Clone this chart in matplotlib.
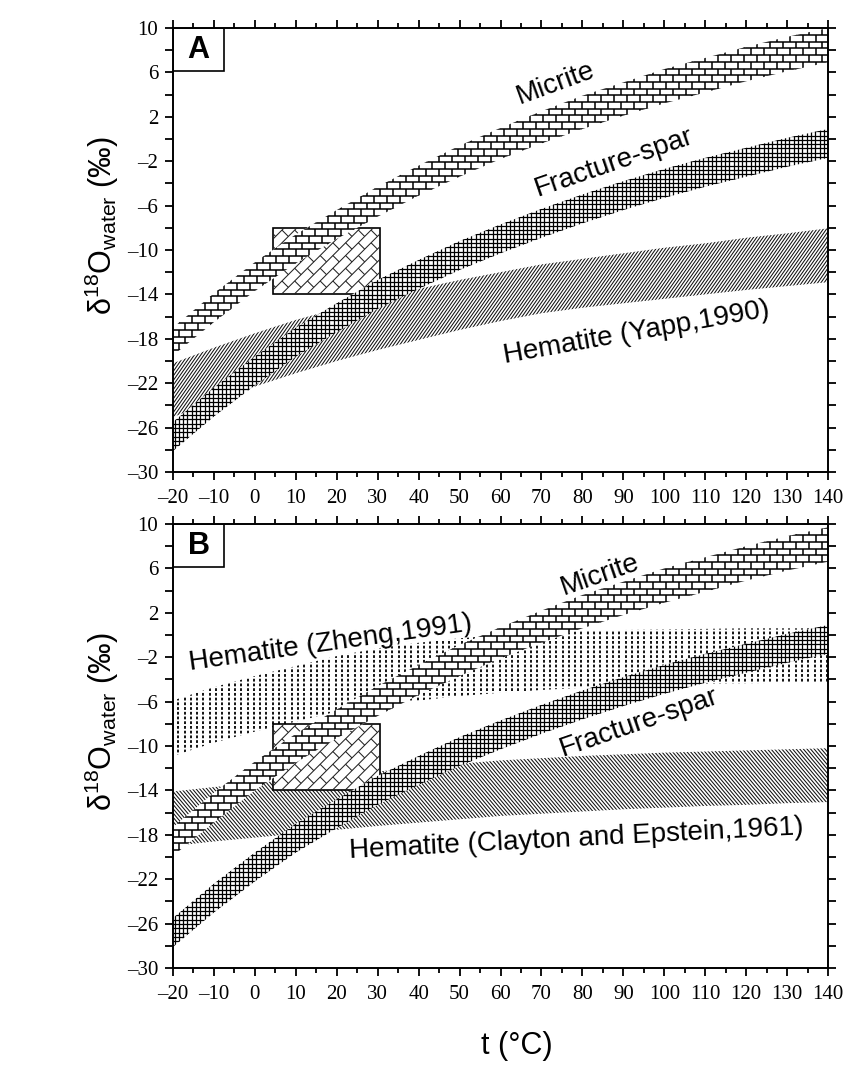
import numpy as np
import matplotlib
matplotlib.use("Agg")
import matplotlib.pyplot as plt
from matplotlib.collections import LineCollection
from matplotlib.patches import Polygon, Rectangle
from matplotlib.transforms import IdentityTransform
from matplotlib.ticker import FixedLocator, FuncFormatter

plt.rcParams["font.family"] = ["Liberation Sans", "DejaVu Sans"]
plt.rcParams["mathtext.fontset"] = "custom"
plt.rcParams["mathtext.rm"] = "Liberation Sans"
plt.rcParams["mathtext.it"] = "Liberation Sans"
plt.rcParams["lines.scale_dashes"] = False

## data (t in degC, d18O water in permil)
t = [-20, -10, 0, 10, 20, 30, 40, 50, 60, 70, 80, 90, 100, 110, 120, 130, 140]

micrite_a_top = [-17.0, -13.9, -11.1, -8.6, -6.4, -4.3, -2.4, -0.6, 1.0, 2.5, 3.9, 5.1, 6.3, 7.3, 8.3, 9.2, 10.0]
micrite_a_bot = [-19.5, -16.5, -13.7, -11.2, -9.0, -7.0, -5.1, -3.4, -1.8, -0.4, 0.9, 2.1, 3.2, 4.2, 5.2, 6.1, 6.9]
micrite_b_top = [-17.3, -14.2, -11.4, -8.9, -6.7, -4.6, -2.7, -0.9, 0.7, 2.2, 3.6, 4.8, 6.0, 7.0, 8.0, 8.9, 9.7]
micrite_b_bot = [-19.9, -16.9, -14.0, -11.5, -9.3, -7.3, -5.4, -3.7, -2.1, -0.7, 0.6, 1.8, 2.9, 3.9, 4.9, 5.8, 6.6]

spar_top = [-25.5, -22.4, -19.6, -17.0, -14.8, -12.7, -10.9, -9.2, -7.7, -6.3, -5.0, -3.8, -2.7, -1.7, -0.8, 0.1, 0.9]
spar_bot = [-28.1, -25.0, -22.2, -19.6, -17.4, -15.3, -13.5, -11.8, -10.3, -8.9, -7.6, -6.4, -5.3, -4.3, -3.4, -2.5, -1.7]

yapp_top = [-20.2, -18.8, -17.5, -16.3, -15.3, -14.3, -13.5, -12.7, -12.0, -11.3, -10.8, -10.3, -9.8, -9.4, -8.9, -8.5, -8.05]
yapp_bot = [-25.05, -23.6, -22.3, -21.1, -20.0, -19.0, -18.1, -17.2, -16.4, -15.7, -15.2, -14.8, -14.4, -14.0, -13.6, -13.25, -12.9]

zheng_top = [-5.9, -4.7, -3.7, -2.8, -1.9, -1.2, -0.7, -0.3, 0.0, 0.2, 0.35, 0.45, 0.5, 0.55, 0.6, 0.6, 0.6]
zheng_bot = [-10.9, -9.7, -8.7, -7.8, -6.9, -6.3, -5.9, -5.5, -5.2, -4.95, -4.75, -4.6, -4.5, -4.4, -4.35, -4.3, -4.25]

clayton_top = [-14.1, -13.7, -13.35, -13.0, -12.65, -12.3, -11.95, -11.6, -11.3, -11.1, -10.9, -10.75, -10.6, -10.5, -10.4, -10.3, -10.2]
clayton_bot = [-19.0, -18.6, -18.25, -17.9, -17.55, -17.2, -16.9, -16.6, -16.3, -16.1, -15.9, -15.7, -15.55, -15.4, -15.3, -15.15, -15.05]

# measured range box (t, d18O)
box_t = [4.5, 30.5]
box_d = [-14.0, -8.0]

x_ticks = [-20, -10, 0, 10, 20, 30, 40, 50, 60, 70, 80, 90, 100, 110, 120, 130, 140]
y_ticks = [-30, -26, -22, -18, -14, -10, -6, -2, 2, 6, 10]


## hatch helpers (pattern drawn in pixels, clipped to the band polygon)
def band(ax, top, bot, z, xs=t):
    verts = list(zip(xs, top)) + list(zip(xs[::-1], bot[::-1]))
    p = Polygon(verts, closed=True, facecolor="white", edgecolor="none", zorder=z)
    ax.add_patch(p)
    return p, verts


def extent(ax, verts, pad=20):
    px = ax.transData.transform(np.array(verts))
    return px[:, 0].min() - pad, px[:, 1].min() - pad, px[:, 0].max() + pad, px[:, 1].max() + pad


def draw(ax, patch, segs, z, **kw):
    lc = LineCollection(segs, transform=IdentityTransform(), zorder=z + 0.1, **kw)
    lc.set_clip_path(patch)
    ax.add_collection(lc, autolim=False)


def bricks(ext, h, w, ang=0.0):
    x0, y0, x1, y1 = ext
    cx, cy = (x0 + x1) / 2, (y0 + y1) / 2
    r = np.hypot(x1 - x0, y1 - y0) / 2 + w
    ca, sa = np.cos(np.radians(ang)), np.sin(np.radians(ang))
    rot = lambda u, v: (cx + u * ca - v * sa, cy + u * sa + v * ca)
    segs = []
    for k, v in enumerate(np.arange(-r, r, h)):
        segs.append([rot(-r, v), rot(r, v)])
        off = (k % 2) * w / 2
        for u in np.arange(-r + off, r, w):
            segs.append([rot(u, v), rot(u, v + h)])
    return segs


def grid(ext, s):
    x0, y0, x1, y1 = ext
    segs = [[(x, y0), (x, y1)] for x in np.arange(x0, x1, s)]
    segs += [[(x0, y), (x1, y)] for y in np.arange(y0, y1, s)]
    return segs


def diag(ext, dx, ang):
    x0, y0, x1, y1 = ext
    k = 1.0 / np.tan(np.radians(ang))
    span = abs(k) * (y1 - y0)
    return [[(c, y0), (c + k * (y1 - y0), y1)] for c in np.arange(x0 - span, x1 + span, dx)]


def verticals(ext, s):
    x0, y0, x1, y1 = ext
    return [[(x, y0), (x, y1)] for x in np.arange(x0, x1, s)]


## figure
fig = plt.figure(figsize=(8.44, 10.65), dpi=100)
ax_a = fig.add_axes([173 / 844, 1 - 472 / 1065, 655 / 844, 444 / 1065])
ax_b = fig.add_axes([173 / 844, 1 - 968 / 1065, 655 / 844, 444 / 1065])

fmt = FuncFormatter(lambda v, p: "{:g}".format(v).replace("-", "\u2013"))

for ax in (ax_a, ax_b):
    ax.set_xlim(-20, 140)
    ax.set_ylim(-30, 10)
    ax.xaxis.set_major_locator(FixedLocator(x_ticks))
    ax.xaxis.set_minor_locator(FixedLocator([v + 5 for v in x_ticks[:-1]]))
    ax.yaxis.set_major_locator(FixedLocator(y_ticks))
    ax.yaxis.set_minor_locator(FixedLocator([v + 2 for v in y_ticks[:-1]]))
    ax.xaxis.set_major_formatter(fmt)
    ax.yaxis.set_major_formatter(fmt)
    ax.tick_params(which="both", direction="out", top=True, right=True, width=1.3, color="black")
    ax.tick_params(axis="x", which="major", length=6, pad=6)
    ax.tick_params(axis="x", which="minor", length=3.5)
    ax.tick_params(axis="y", which="both", length=5.5, pad=5)
    for lab in ax.get_xticklabels() + ax.get_yticklabels():
        lab.set_family("Liberation Serif")
        lab.set_fontsize(15)
    for sp in ax.spines.values():
        sp.set_linewidth(1.4)
        sp.set_zorder(20)
    ax.set_ylabel("\u03b4$^{\\mathregular{18}}$O$_{\\mathregular{water}}$ (\u2030)", fontsize=22)
    ax.yaxis.set_label_coords(-0.08, 0.555)

box_verts = [(box_t[0], box_d[0]), (box_t[1], box_d[0]), (box_t[1], box_d[1]), (box_t[0], box_d[1])]


def common(ax, micrite_top, micrite_bot):
    # box of measured values
    bp = Polygon(box_verts, closed=True, facecolor="white", edgecolor="black", lw=1.2, zorder=3)
    ax.add_patch(bp)
    draw(ax, bp, bricks(extent(ax, box_verts), 9, 18, ang=45), 3, colors="#222222", linewidths=0.75)
    # fracture-spar
    p, v = band(ax, spar_top, spar_bot, 4)
    draw(ax, p, grid(extent(ax, v), 4.3), 4, colors="black", linewidths=0.9)
    # micrite
    p, v = band(ax, micrite_top, micrite_bot, 5)
    draw(ax, p, bricks(extent(ax, v), 6.7, 13), 5, colors="black", linewidths=1.1)


# panel A
p, v = band(ax_a, yapp_top, yapp_bot, 2)
draw(ax_a, p, diag(extent(ax_a, v), 3.2, 55), 2, colors="#111111", linewidths=0.75)
common(ax_a, micrite_a_top, micrite_a_bot)

# panel B
p, v = band(ax_b, zheng_top, zheng_bot, 2)
draw(ax_b, p, verticals(extent(ax_b, v), 6.3), 2, colors="black", linewidths=1.3,
     linestyles=[(0, (2.0, 1.4))])
p, v = band(ax_b, clayton_top, clayton_bot, 2)
draw(ax_b, p, diag(extent(ax_b, v), 3.6, -50), 2, colors="#111111", linewidths=0.75)
common(ax_b, micrite_b_top, micrite_b_bot)

# curve labels
lab_kw = dict(fontsize=20, ha="center", va="center", rotation_mode="anchor", zorder=10)
ax_a.text(73.6, 5.0, "Micrite", rotation=20, **lab_kw)
ax_a.text(87.8, -2.1, "Fracture-spar", rotation=19, **lab_kw)
ax_a.text(93.2, -17.5, "Hematite (Yapp,1990)", rotation=10, **lab_kw)
ax_b.text(84.3, 5.4, "Micrite", rotation=19, **lab_kw)
ax_b.text(18.6, -0.7, "Hematite (Zheng,1991)", rotation=8, **lab_kw)
ax_b.text(93.9, -7.9, "Fracture-spar", rotation=19, **lab_kw)
ax_b.text(78.5, -18.4, "Hematite (Clayton and Epstein,1961)", rotation=3, **lab_kw)

# panel letters
for ax, letter in ((ax_a, "A"), (ax_b, "B")):
    w, h = 51 / 655, 43 / 444
    ax.add_patch(Rectangle((0, 1 - h), w, h, transform=ax.transAxes, facecolor="white",
                           edgecolor="black", lw=1.2, zorder=15))
    ax.text(w / 2, 1 - h / 2, letter, transform=ax.transAxes, ha="center", va="center",
            fontsize=22, fontweight="bold", zorder=16)

fig.text(517 / 844, 1 - 1046 / 1065, "t (\u00b0C)", ha="center", va="center", fontsize=22)

plt.savefig("out.png", dpi=100)
